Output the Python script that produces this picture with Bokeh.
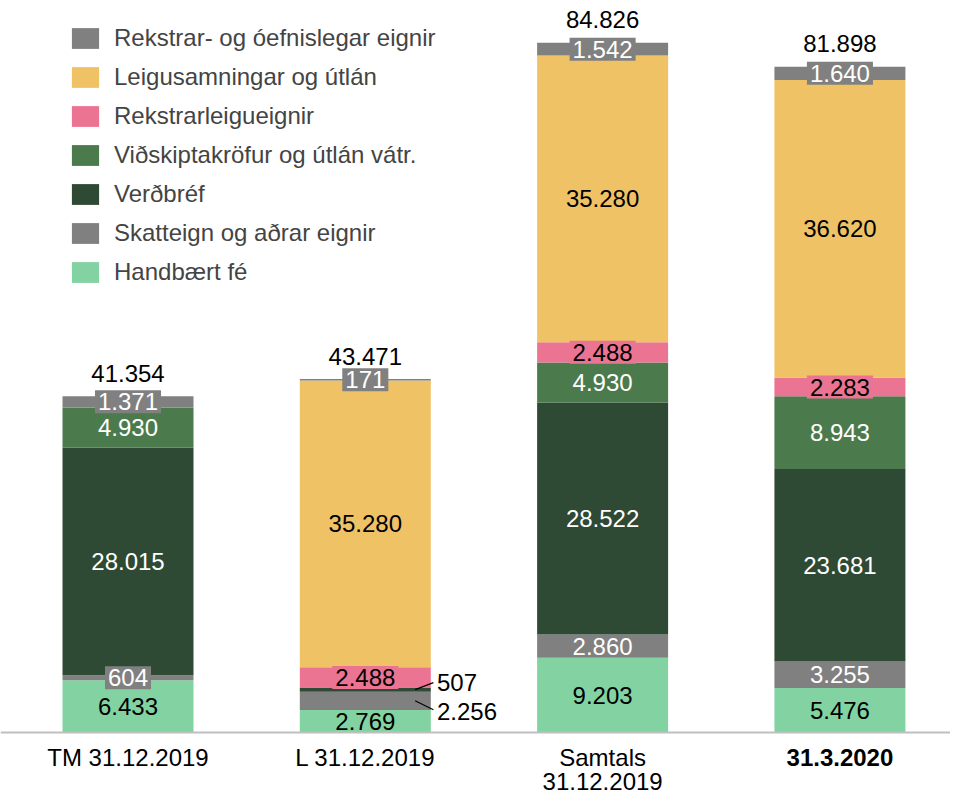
from bokeh.plotting import figure
from bokeh.models import Legend, LegendItem, Span, ColumnDataSource, Range1d
from bokeh.core.properties import value
from bokeh.embed import file_html
from bokeh.resources import INLINE

# ---------------- data ----------------
categories = ["TM 31.12.2019", "L 31.12.2019", "Samtals\n31.12.2019", "31.3.2020"]
series_names = [
    "Handbært fé",
    "Skatteign og aðrar eignir",
    "Verðbréf",
    "Viðskiptakröfur og útlán vátr.",
    "Rekstrarleigueignir",
    "Leigusamningar og útlán",
    "Rekstrar- og óefnislegar eignir",
]
handbaert_fe = [6433, 2769, 9203, 5476]
skatteign = [604, 2256, 2860, 3255]
verdbref = [28015, 507, 28522, 23681]
vidskiptakrofur = [4930, 0, 4930, 8943]
rekstrarleigueignir = [0, 2488, 2488, 2283]
leigusamningar = [0, 35280, 35280, 36620]
rekstrar_oefnislegar = [1371, 171, 1542, 1640]
totals = [41354, 43471, 84826, 81898]

series_values = [handbaert_fe, skatteign, verdbref, vidskiptakrofur,
                 rekstrarleigueignir, leigusamningar, rekstrar_oefnislegar]

# ---------------- styles ----------------
colors = ["#83D3A2", "#808080", "#2E4A34", "#4B7B4C", "#EC7493", "#F0C266", "#808080"]
label_colors = ["black", "white", "white", "white", "black", "black", "white"]
FONT = value("Liberation Sans")
FS = "24px"
W, H = 950, 795
Y0, Y1 = -7749, 90037
X0, X1 = -0.5373, 3.466
px_per_unit = H / (Y1 - Y0)
box_threshold = 2600          # small segments get a label box
outside = {(1, 1), (1, 2)}    # (bar, series) labels drawn beside the bar


def fmt(v):
    return f"{v:,}".replace(",", ".")


xs = list(range(len(categories)))
keys = [f"s{i}" for i in range(len(series_names))]
data = {"x": xs}
for k, vals in zip(keys, series_values):
    data[k] = vals
source = ColumnDataSource(data)

p = figure(width=W, height=H, output_backend="svg", toolbar_location=None,
           x_range=Range1d(X0, X1), y_range=Range1d(Y0, Y1),
           min_border=0, x_axis_location=None, y_axis_location=None)
p.grid.visible = False
p.outline_line_color = None
p.background_fill_color = "white"

renderers = p.vbar_stack(keys, x="x", width=0.552, source=source,
                         color=colors, line_color=None)

# baseline
p.add_layout(Span(location=0, dimension="width", line_color="#BFBFBF", line_width=2))

# segment labels
plain = {"x": [], "y": [], "t": [], "c": []}
boxed = {"x": [], "y": [], "t": [], "c": [], "bg": []}
side = {"x": [], "y": [], "t": []}
lead = {"x0": [], "y0": [], "x1": [], "y1": []}
bottoms = [0] * len(xs)
for si, vals in enumerate(series_values):
    for bi, v in enumerate(vals):
        if v > 0:
            mid = bottoms[bi] + v / 2
            if (bi, si) in outside:
                dy_end = (7 if si == 2 else -9) / px_per_unit
                dy_txt = (7 if si == 2 else -11) / px_per_unit
                lead["x0"].append(xs[bi] + 0.21)
                lead["y0"].append(mid)
                lead["x1"].append(xs[bi] + 0.287)
                lead["y1"].append(mid + dy_end)
                side["x"].append(xs[bi] + 0.302)
                side["y"].append(mid + dy_txt)
                side["t"].append(fmt(v))
            elif v < box_threshold:
                boxed["x"].append(xs[bi]); boxed["y"].append(mid)
                boxed["t"].append(fmt(v)); boxed["c"].append(label_colors[si])
                boxed["bg"].append(colors[si])
            else:
                plain["x"].append(xs[bi]); plain["y"].append(mid)
                plain["t"].append(fmt(v)); plain["c"].append(label_colors[si])
        bottoms[bi] += v

p.text(x="x", y="y", text="t", text_color="c", source=ColumnDataSource(plain),
       text_align="center", text_baseline="middle", text_font=FONT, text_font_size=FS)
p.text(x="x", y="y", text="t", text_color="c", source=ColumnDataSource(boxed),
       text_align="center", text_baseline="middle", text_font=FONT, text_font_size=FS,
       background_fill_color="bg", padding=3)
p.segment(x0="x0", y0="y0", x1="x1", y1="y1", source=ColumnDataSource(lead),
          line_color="black", line_width=1.2)
p.text(x="x", y="y", text="t", source=ColumnDataSource(side), text_color="black",
       text_align="left", text_baseline="middle", text_font=FONT, text_font_size=FS)

# totals
p.text(x=xs, y=totals, text=[fmt(t) for t in totals], text_color="black",
       text_align="center", text_baseline="middle", y_offset=-23,
       text_font=FONT, text_font_size=FS)

# category labels (one text per line)
styles = ["normal"] * (len(categories) - 1) + ["bold"]
cat = {"x": [], "y": [], "t": [], "s": [], "off": []}
for i, c in enumerate(categories):
    for li, line in enumerate(c.split("\n")):
        cat["x"].append(xs[i]); cat["y"].append(0); cat["t"].append(line)
        cat["s"].append(styles[i]); cat["off"].append(25 + 24 * li)
p.text(x="x", y="y", text="t", text_font_style="s", y_offset="off",
       source=ColumnDataSource(cat), text_color="black",
       text_align="center", text_baseline="middle", text_font=FONT, text_font_size=FS)

# legend
items = [LegendItem(label=n, renderers=[r]) for n, r in zip(series_names, renderers)][::-1]
legend = Legend(items=items, location=(68, 509), glyph_width=34, glyph_height=26,
                spacing=11, label_standoff=12, padding=0, margin=0,
                border_line_color=None, background_fill_alpha=0,
                label_text_font="Liberation Sans", label_text_font_size=FS,
                label_height=28)
p.add_layout(legend)

open("out.html", "w").write(file_html(p, INLINE))
